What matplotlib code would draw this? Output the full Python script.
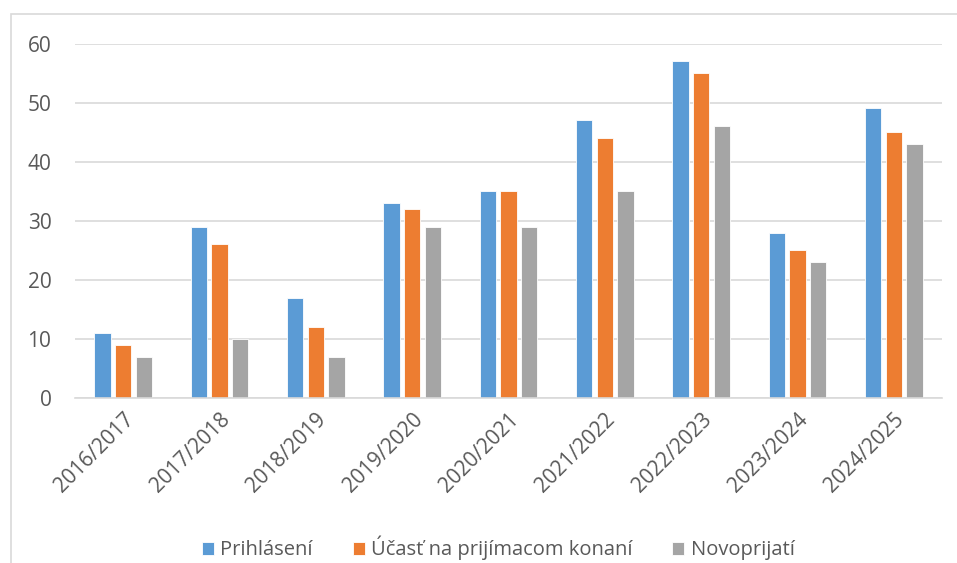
import matplotlib.pyplot as plt
import numpy as np
from matplotlib.patches import Rectangle

plt.rcParams['font.family'] = ['Open Sans', 'DejaVu Sans']

years = ['2016/2017', '2017/2018', '2018/2019', '2019/2020', '2020/2021',
         '2021/2022', '2022/2023', '2023/2024', '2024/2025']
prihlaseni = [11, 29, 17, 33, 35, 47, 57, 28, 49]
ucast = [9, 26, 12, 32, 35, 44, 55, 25, 45]
novoprijati = [7, 10, 7, 29, 29, 35, 46, 23, 43]

series = [('Prihlásení', prihlaseni, '#5B9BD5'),
          ('Účasť na prijímacom konaní', ucast, '#ED7D31'),
          ('Novoprijatí', novoprijati, '#A5A5A5')]

W, H = 957, 563
fig = plt.figure(figsize=(W / 100, H / 100), dpi=100)
ax = fig.add_axes([75 / W, (H - 398) / H, (942 - 75) / W, (398 - 43.5) / H])

# chart border (cut off at right and bottom like the screenshot)
fig.patches.append(Rectangle((11 / W, -0.1), 1.2, (H - 14) / H + 0.1,
                             transform=fig.transFigure, fill=False,
                             edgecolor='#D9D9D9', linewidth=1.2))

x = np.arange(len(years))
bw = 0.17
step = 0.215
for i, (name, vals, col) in enumerate(series):
    ax.bar(x + (i - 1) * step, vals, bw, color=col, label=name,
           edgecolor='white', linewidth=0.6)

ax.set_xlim(-0.5, len(years) - 0.5)
ax.set_ylim(0, 60)
ax.set_yticks(range(0, 61, 10))
ax.yaxis.grid(True, color='#D9D9D9', linewidth=1.2)
ax.set_axisbelow(True)
for s in ['top', 'right', 'left']:
    ax.spines[s].set_visible(False)
ax.spines['bottom'].set_color('#D9D9D9')
ax.spines['bottom'].set_linewidth(1.2)

ax.set_xticks(x)
ax.set_xticklabels(years, rotation=45, ha='right', rotation_mode='anchor')
ax.tick_params(axis='both', length=0, labelsize=15, labelcolor='#595959')
ax.tick_params(axis='y', pad=17)
ax.tick_params(axis='x', pad=8)

fig.legend(loc='center', bbox_to_anchor=(498 / W, (H - 548) / H), ncol=3,
           frameon=False, fontsize=14.5, labelcolor='#595959',
           handlelength=0.6, handleheight=0.6, handletextpad=0.3,
           columnspacing=2.0)

fig.savefig('out.png', dpi=100)
